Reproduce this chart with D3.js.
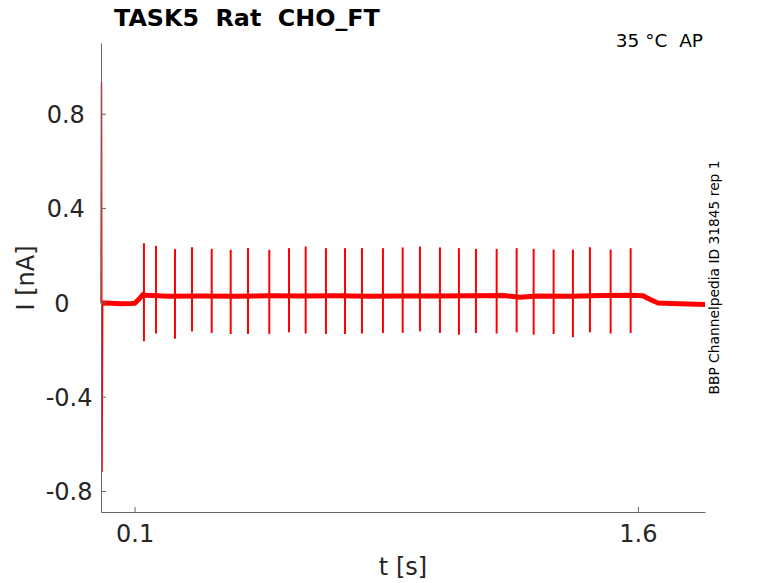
<!DOCTYPE html>
<html>
<head>
<meta charset="utf-8">
<script src="https://cdn.jsdelivr.net/npm/d3@7"></script>
<style>
  body { margin: 0; background: #fff; }
  svg { font-family: "DejaVu Sans", sans-serif; }
  .pre { white-space: pre; }
</style>
</head>
<body>
<div id="chart"></div>
<script>
// tick values
var xTicks = [0.1, 1.6];
var yTicks = [-0.8, -0.4, 0, 0.4, 0.8];

// holding current trace (s, nA)
var baseT = [0.003, 0.03, 0.06, 0.09, 0.101, 0.112, 0.125, 0.135, 0.2, 0.3, 0.4, 0.5, 0.6, 0.7, 0.8, 0.9, 1.0, 1.1, 1.2, 1.25, 1.3, 1.4, 1.5, 1.58, 1.615, 1.635, 1.66, 1.7, 1.75, 1.8];
var baseI = [-0.003, -0.004, -0.006, -0.005, -0.004, 0.012, 0.033, 0.030, 0.026, 0.027, 0.026, 0.028, 0.027, 0.028, 0.026, 0.027, 0.027, 0.028, 0.029, 0.022, 0.027, 0.026, 0.029, 0.030, 0.028, 0.013, -0.003, -0.005, -0.007, -0.009];

// capacitive transient at the start
var transT = [0.0, 0.0015, 0.003, 0.005];
var transI = [-0.004, 0.935, -0.72, -0.004];

// action current spikes during the step
var spikeT = [0.128, 0.164, 0.2205, 0.2712, 0.3299, 0.3865, 0.438, 0.5015, 0.5602, 0.61, 0.6704, 0.7271, 0.7777, 0.8403, 0.899, 0.9505, 1.0101, 1.0667, 1.1174, 1.1791, 1.2387, 1.2893, 1.3489, 1.4064, 1.4571, 1.5188, 1.5784];
var spikePeak = [0.251, 0.240, 0.226, 0.234, 0.227, 0.223, 0.230, 0.223, 0.230, 0.237, 0.230, 0.230, 0.230, 0.230, 0.233, 0.237, 0.233, 0.230, 0.227, 0.227, 0.230, 0.227, 0.224, 0.224, 0.234, 0.224, 0.230];
var spikeTrough = [-0.165, -0.132, -0.154, -0.123, -0.130, -0.134, -0.134, -0.134, -0.127, -0.132, -0.134, -0.134, -0.132, -0.130, -0.129, -0.123, -0.130, -0.137, -0.130, -0.132, -0.127, -0.137, -0.134, -0.148, -0.127, -0.132, -0.130];

var svg_width = 778,
    svg_height = 583,
    plot_left = 101,
    plot_right = 705,
    plot_top = 43,
    plot_bottom = 512,
    trace_color = "#ff0000",
    axis_color = "#666666",
    text_color = "#262626";

var x = d3.scaleLinear().domain([0, 1.8]).range([plot_left, plot_right]);
var y = d3.scaleLinear().domain([-0.889, 1.1]).range([plot_bottom, plot_top]);

var svg = d3.select("#chart").append("svg")
    .attr("width", svg_width)
    .attr("height", svg_height);

var line = d3.line()
    .x(function (d) { return x(d[0]); })
    .y(function (d) { return y(d[1]); });

// baseline band (thick stroke stands in for the recording noise)
svg.append("path")
    .datum(baseT.map(function (t, i) { return [t, baseI[i]]; }))
    .attr("d", line)
    .attr("fill", "none")
    .attr("stroke", trace_color)
    .attr("stroke-width", 5)
    .attr("stroke-linejoin", "round");

svg.append("path")
    .datum(transT.map(function (t, i) { return [t, transI[i]]; }))
    .attr("d", line)
    .attr("fill", "none")
    .attr("stroke", trace_color)
    .attr("stroke-width", 1.5);

svg.selectAll("line.spike")
    .data(spikeT.map(function (t, i) { return {t: t, hi: spikePeak[i], lo: spikeTrough[i]}; }))
    .enter().append("line")
    .attr("class", "spike")
    .attr("x1", function (d) { return x(d.t); })
    .attr("x2", function (d) { return x(d.t); })
    .attr("y1", function (d) { return y(d.hi); })
    .attr("y2", function (d) { return y(d.lo); })
    .attr("stroke", trace_color)
    .attr("stroke-width", 2);

// axes, ticks pointing inward like MATLAB
var xAxis = svg.append("g")
    .attr("transform", "translate(0," + plot_bottom + ")")
    .call(d3.axisBottom(x).tickValues(xTicks).tickSizeInner(-5).tickSizeOuter(0).tickPadding(13)
        .tickFormat(function (d) { return String(d); }));

var yAxis = svg.append("g")
    .attr("transform", "translate(" + plot_left + ",0)")
    .call(d3.axisLeft(y).tickValues(yTicks).tickSizeInner(-5).tickSizeOuter(0).tickPadding(8.5)
        .tickFormat(function (d) { return String(d).padEnd(4, " "); }));

[xAxis, yAxis].forEach(function (g) {
    g.attr("font-family", null).attr("font-size", null);
    g.select(".domain").attr("stroke", axis_color);
    g.selectAll(".tick line").attr("stroke", axis_color);
    g.selectAll(".tick text")
        .attr("fill", text_color)
        .style("font-size", "24px");
});
yAxis.selectAll(".tick text").attr("class", "pre").attr("dy", "0.36em");

// labels
svg.append("text")
    .attr("x", (plot_left + plot_right) / 2)
    .attr("y", 575)
    .attr("text-anchor", "middle")
    .attr("fill", text_color)
    .style("font-size", "24px")
    .text("t [s]");

svg.append("text")
    .attr("transform", "translate(34.3," + ((plot_top + plot_bottom) / 2 + 0.5) + ") rotate(-90)")
    .attr("text-anchor", "middle")
    .attr("fill", text_color)
    .style("font-size", "24px")
    .text("I [nA]");

svg.append("text")
    .attr("class", "pre")
    .attr("x", 114)
    .attr("y", 26)
    .attr("fill", "#000")
    .style("font-size", "23.8px")
    .style("font-weight", "bold")
    .text("TASK5  Rat  CHO_FT");

svg.append("text")
    .attr("class", "pre")
    .attr("x", 703)
    .attr("y", 46.7)
    .attr("text-anchor", "end")
    .attr("fill", "#000")
    .style("font-size", "18.5px")
    .text("35 \u00B0C  AP");

svg.append("text")
    .attr("transform", "translate(719,277.5) rotate(-90)")
    .attr("text-anchor", "middle")
    .attr("fill", "#000")
    .style("font-size", "13.8px")
    .text("BBP Channelpedia ID 31845 rep 1");
</script>
</body>
</html>
